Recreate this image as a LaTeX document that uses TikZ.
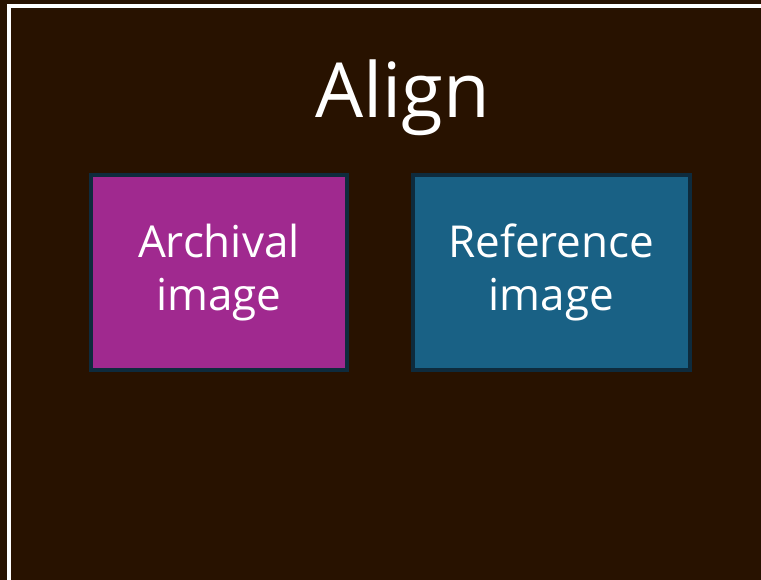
\documentclass[tikz,border=0pt]{standalone}
\usepackage{fontspec}
\setmainfont{Open Sans}
\usetikzlibrary{positioning}

\definecolor{bgbrown}{HTML}{281200}
\definecolor{boxmagenta}{HTML}{A0298F}
\definecolor{boxblue}{HTML}{196185}
\definecolor{boxedge}{HTML}{0E2B3D}

\tikzset{
  imgbox/.style={rectangle, draw=boxedge, line width=4pt, text=white,
    font=\fontsize{44}{53}\selectfont, align=center,
    minimum height=195pt, inner sep=0pt},
}

\begin{document}
\begin{tikzpicture}[x=1pt,y=-1pt]
    \useasboundingbox (0,0) rectangle (761,580);
    \clip (0,0) rectangle (761,580);
    \fill[bgbrown] (0,0) rectangle (761,580);
    \draw[white, line width=3.6pt] (9.2,6.3) rectangle (766,581.6);

    \node[text=white, font=\fontsize{76}{84}\selectfont, anchor=base]
    (title) at (402.5,118){Align};

    \node[imgbox, fill=boxmagenta, minimum width=256.3pt]
    (archival) at (218.9,272.5){Archival\\image};
    \node[imgbox, fill=boxblue, minimum width=277pt]
    (reference) at (551.2,272.5){Reference\\image};
\end{tikzpicture}
\end{document}
